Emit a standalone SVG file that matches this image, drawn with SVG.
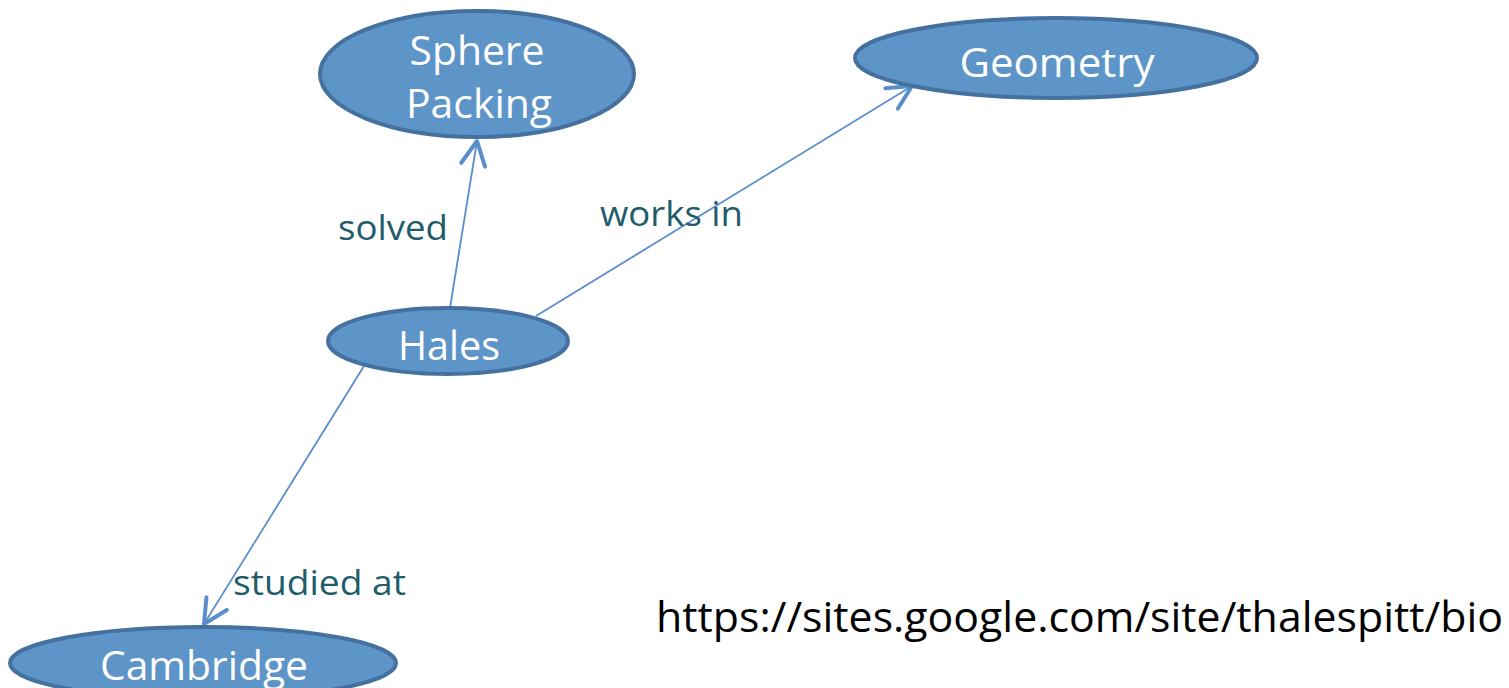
<svg xmlns="http://www.w3.org/2000/svg" width="1509" height="688" viewBox="0 0 1509 688">
<style>
.node ellipse{fill:#5e95c9;stroke:#44719f;stroke-width:4}
.node text{fill:#ffffff;font-family:"Open Sans","Liberation Sans",sans-serif;font-size:40px;text-anchor:middle}
.edge{stroke:#5a8ecb;stroke-width:1.8;fill:none}
.lbl{fill:#215c6b;font-family:"Open Sans","Liberation Sans",sans-serif;font-size:35px}
.url{fill:#000;font-family:"Open Sans","Liberation Sans",sans-serif;font-size:42px}
</style>
<defs>
<marker id="arr" markerUnits="userSpaceOnUse" markerWidth="40" markerHeight="40" refX="26" refY="14" orient="auto">
<path d="M2,2 L26,14 L2,26" fill="none" stroke="#5a8ecb" stroke-width="4" stroke-linecap="round" stroke-linejoin="round"/>
</marker>
</defs>
<rect width="1509" height="688" fill="#ffffff"/>
<g id="connectors">
<line class="edge" x1="450" y1="308" x2="477" y2="141" marker-end="url(#arr)"/>
<line class="edge" x1="536" y1="316" x2="912" y2="86" marker-end="url(#arr)"/>
<line class="edge" x1="364" y1="366" x2="204" y2="624" marker-end="url(#arr)"/>
<text class="lbl" x="338" y="240" textLength="110" lengthAdjust="spacingAndGlyphs">solved</text>
<text class="lbl" x="600" y="226" textLength="143" lengthAdjust="spacingAndGlyphs">works in</text>
<text class="lbl" x="233" y="595" textLength="173" lengthAdjust="spacingAndGlyphs">studied at</text>
</g>
<g id="sphere" class="node">
<ellipse cx="477" cy="74" rx="157" ry="63"/>
<text x="477" y="65" textLength="135" lengthAdjust="spacingAndGlyphs">Sphere</text>
<text x="479" y="118" textLength="146" lengthAdjust="spacingAndGlyphs">Packing</text>
</g>
<g id="geometry" class="node">
<ellipse cx="1056" cy="58" rx="201" ry="40"/>
<text x="1057" y="77" textLength="195" lengthAdjust="spacingAndGlyphs">Geometry</text>
</g>
<g id="hales" class="node">
<ellipse cx="448" cy="341" rx="120" ry="33"/>
<text x="449" y="360" textLength="102" lengthAdjust="spacingAndGlyphs">Hales</text>
</g>
<g id="cambridge" class="node">
<ellipse cx="203" cy="663" rx="193" ry="36"/>
<text x="204" y="680" textLength="208" lengthAdjust="spacingAndGlyphs">Cambridge</text>
</g>
<text class="url" x="656" y="632" textLength="847" lengthAdjust="spacingAndGlyphs">https://sites.google.com/site/thalespitt/bio</text>
</svg>
